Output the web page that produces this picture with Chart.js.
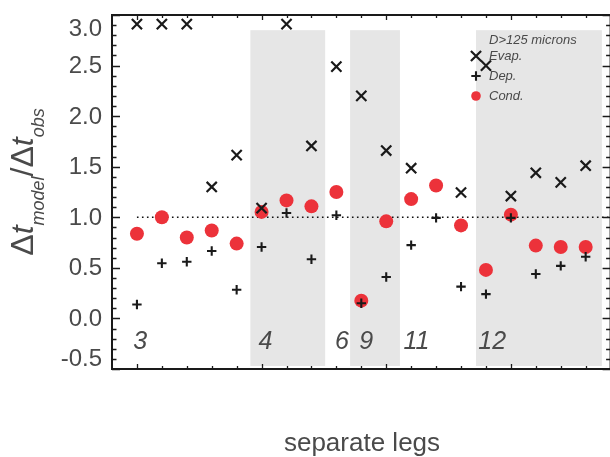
<!DOCTYPE html>
<html>
<head>
<meta charset="utf-8">
<script src="https://cdn.jsdelivr.net/npm/chart.js@4.4.0/dist/chart.umd.min.js"></script>
<style>
html, body { margin: 0; padding: 0; background: #fff; overflow: hidden; }
canvas { display: block; }
</style>
</head>
<body>
<canvas id="chart" width="620" height="457"></canvas>
<script>
// one point per separate leg, x = leg number
const legIndex = [1, 2, 3, 4, 5, 6, 7, 8, 9, 10, 11, 12, 13, 14, 15, 16, 17, 18, 19];
const evapRatio = [2.91, 2.91, 2.91, 1.30, 1.615, 1.09, 2.91, 1.705, 2.49, 2.2, 1.66, 1.485, null, 1.245, 2.5, 1.21, 1.44, 1.345, 1.51];
const depRatio = [0.137, 0.546, 0.56, 0.667, 0.284, 0.706, 1.043, 0.585, 1.02, 0.15, 0.41, 0.725, 0.994, 0.314, 0.24, 0.994, 0.44, 0.52, 0.61];
const condRatio = [0.837, 1.0, 0.80, 0.87, 0.74, 1.053, 1.167, 1.108, 1.25, 0.176, 0.96, 1.18, 1.315, 0.92, 0.48, 1.026, 0.72, 0.706, 0.706];

const yTickValues = [-0.5, 0.0, 0.5, 1.0, 1.5, 2.0, 2.5, 3.0];
const groupLabels = ['3', '4', '6', '9', '11', '12'];
const groupLabelAt = [1.13, 6.16, 9.22, 10.2, 12.21, 15.25];
const shadeFrom = [5.55, 9.55, 14.6];
const shadeTo = [8.55, 11.55, 19.65];
const shadeLow = -0.47, shadeHigh = 2.85;
const refLevel = 1.0;

const xMin = 0, xMax = 20, yMin = -0.5, yMax = 3.0;
const RED = 'rgb(236,50,58)';
const INK = '#1a1a1a';
const GREY_TXT = '#4a4a4a';
const FONT = '"Liberation Sans", Arial, Helvetica, sans-serif';

const toPoints = (vals) => legIndex.map((x, i) => ({ x: x, y: vals[i] }));

const styles = {
  evap: { pointStyle: 'crossRot', radius: 7.2, borderWidth: 2.2 },
  dep: { pointStyle: 'cross', radius: 4.7, borderWidth: 2.1 },
  cond: { pointStyle: 'circle', radius: 7, borderWidth: 0 }
};

const decor = {
  id: 'decor',
  beforeDatasetsDraw(chart) {
    const { ctx, scales: { x, y } } = chart;
    ctx.save();
    ctx.fillStyle = '#e6e6e6';
    for (let i = 0; i < shadeFrom.length; i++) {
      const x0 = x.getPixelForValue(shadeFrom[i]);
      const x1 = x.getPixelForValue(shadeTo[i]);
      const y0 = y.getPixelForValue(shadeHigh);
      const y1 = y.getPixelForValue(shadeLow);
      ctx.fillRect(x0, y0, x1 - x0, y1 - y0);
    }
    ctx.restore();
  },
  afterDatasetsDraw(chart) {
    const { ctx, chartArea: a, scales: { x, y } } = chart;
    ctx.save();

    // frame
    ctx.strokeStyle = INK;
    ctx.lineWidth = 2;
    ctx.strokeRect(a.left, a.top, a.right - a.left, a.bottom - a.top);

    // y ticks (both sides, inward)
    ctx.lineWidth = 1.3;
    ctx.beginPath();
    for (let k = 0; k <= 35; k++) {
      const v = yMin + k * 0.1;
      const py = Math.round(y.getPixelForValue(v)) + 0.5;
      const len = (k % 5 === 0) ? 8 : 4.5;
      ctx.moveTo(a.left, py); ctx.lineTo(a.left + len, py);
      ctx.moveTo(a.right, py); ctx.lineTo(a.right - len, py);
    }
    // x ticks (top and bottom, inward)
    for (let i = xMin + 1; i < xMax; i++) {
      const px = Math.round(x.getPixelForValue(i)) + 0.5;
      const len = ((i - 1) % 5 === 0) ? 5 : 3;
      ctx.moveTo(px, a.top); ctx.lineTo(px, a.top + len);
      ctx.moveTo(px, a.bottom); ctx.lineTo(px, a.bottom - len);
    }
    ctx.stroke();

    // y tick labels
    ctx.fillStyle = GREY_TXT;
    ctx.font = '24px ' + FONT;
    ctx.textAlign = 'right';
    ctx.textBaseline = 'middle';
    yTickValues.forEach(v => {
      let py = y.getPixelForValue(v);
      py = Math.min(Math.max(py, a.top + 13), a.bottom - 11);
      ctx.fillText(v.toFixed(1), a.left - 10, py + 1);
    });

    // leg group labels
    ctx.font = 'italic 25px ' + FONT;
    ctx.textAlign = 'center';
    ctx.textBaseline = 'alphabetic';
    groupLabels.forEach((t, i) => {
      ctx.fillText(t, x.getPixelForValue(groupLabelAt[i]), y.getPixelForValue(-0.21) + 9);
    });

    // legend
    ctx.font = 'italic 13px ' + FONT;
    ctx.textAlign = 'left';
    ctx.textBaseline = 'middle';
    ctx.fillText('D>125 microns', 489, 40);
    const entries = [['Evap.', styles.evap, INK], ['Dep.', styles.dep, INK], ['Cond.', styles.cond, RED]];
    entries.forEach((e, i) => {
      const ly = 56 + i * 20;
      ctx.fillStyle = e[2];
      ctx.strokeStyle = e[2];
      ctx.lineWidth = e[1].borderWidth || 1;
      Chart.helpers.drawPoint(ctx, { pointStyle: e[1].pointStyle, radius: e[1].pointStyle === 'circle' ? 4.8 : e[1].radius, rotation: 0, borderWidth: e[1].borderWidth }, 476, ly);
      ctx.fillStyle = GREY_TXT;
      ctx.fillText(e[0], 489, ly);
    });

    // x axis title
    ctx.font = '26px ' + FONT;
    ctx.textAlign = 'center';
    ctx.textBaseline = 'middle';
    ctx.fillText('separate legs', 362, 444);

    // y axis title: Δt_model / Δt_obs
    const parts = [
      ['Δ', '32px', 0], ['t', 'italic 32px', 0], ['model', 'italic 18px', 11],
      ['/', '32px', 0], ['Δ', '32px', 0], ['t', 'italic 32px', 0], ['obs', 'italic 18px', 11]
    ];
    let total = 0;
    parts.forEach(p => { ctx.font = p[1] + ' ' + FONT; total += ctx.measureText(p[0]).width; });
    ctx.translate(33, 182);
    ctx.rotate(-Math.PI / 2);
    ctx.textAlign = 'left';
    ctx.textBaseline = 'alphabetic';
    let cx = -total / 2;
    parts.forEach(p => {
      ctx.font = p[1] + ' ' + FONT;
      ctx.fillText(p[0], cx, p[2]);
      cx += ctx.measureText(p[0]).width;
    });

    ctx.restore();
  }
};

new Chart(document.getElementById('chart'), {
  type: 'scatter',
  data: {
    datasets: [
      {
        label: 'Evap.', data: toPoints(evapRatio), order: 1,
        pointStyle: styles.evap.pointStyle, pointRadius: styles.evap.radius,
        pointBorderWidth: styles.evap.borderWidth, borderColor: INK, backgroundColor: INK
      },
      {
        label: 'Dep.', data: toPoints(depRatio), order: 2,
        pointStyle: styles.dep.pointStyle, pointRadius: styles.dep.radius,
        pointBorderWidth: styles.dep.borderWidth, borderColor: INK, backgroundColor: INK
      },
      {
        label: 'Cond.', data: toPoints(condRatio), order: 3,
        pointStyle: styles.cond.pointStyle, pointRadius: styles.cond.radius,
        pointBorderWidth: 0, borderColor: RED, backgroundColor: RED
      },
      {
        type: 'line', label: 'ref', order: 4,
        data: [{ x: legIndex[0], y: refLevel }, { x: xMax, y: refLevel }],
        borderColor: '#111', borderWidth: 1.6, borderDash: [1.6, 3.4],
        pointRadius: 0, fill: false
      }
    ]
  },
  options: {
    responsive: false,
    animation: false,
    layout: { padding: { left: 112, right: 6, top: 15, bottom: 88 } },
    plugins: { legend: { display: false }, tooltip: { enabled: false } },
    scales: {
      x: { type: 'linear', min: xMin, max: xMax, display: false },
      y: { type: 'linear', min: yMin, max: yMax, display: false }
    }
  },
  plugins: [decor]
});
</script>
</body>
</html>
